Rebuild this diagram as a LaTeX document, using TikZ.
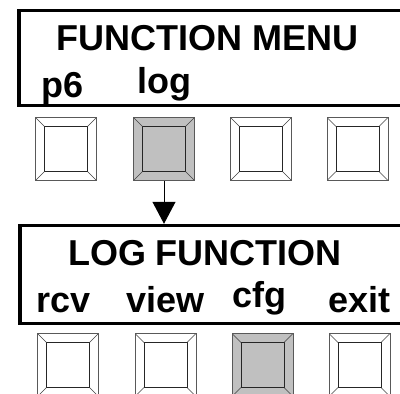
\documentclass[tikz,border=0pt]{standalone}
\usepackage{fontspec}
\setmainfont{Liberation Sans}
\usetikzlibrary{arrows.meta}
\definecolor{keygray}{HTML}{C0C0C0}
\tikzset{
  screen/.style={draw, line width=3.4pt, rectangle, inner sep=0pt},
  lbl/.style={anchor=base, inner sep=0pt, font=\fontsize{36}{40}\selectfont\bfseries},
  keybtn/.style={draw=black!65, line width=1pt, rectangle, inner sep=0pt,
    minimum width=61pt, minimum height=63pt,
    path picture={
      \draw[black!85, line width=0.9pt]
        ([shift={(9pt,9pt)}]path picture bounding box.south west)
        rectangle ([shift={(-9pt,-9pt)}]path picture bounding box.north east);
      \draw[black!75, line width=0.7pt]
        (path picture bounding box.south west) -- ([shift={(9pt,9pt)}]path picture bounding box.south west)
        (path picture bounding box.north west) -- ([shift={(9pt,-9pt)}]path picture bounding box.north west)
        (path picture bounding box.north east) -- ([shift={(-9pt,-9pt)}]path picture bounding box.north east)
        (path picture bounding box.south east) -- ([shift={(-9pt,9pt)}]path picture bounding box.south east);
    }},
  pressed/.style={keybtn, fill=keygray}
}
\begin{document}
\begin{tikzpicture}[x=1pt, y=-1pt]
  \useasboundingbox (0,0) rectangle (400,394);
  \clip (0,0) rectangle (400,394);
  % first screen
  \node[screen, minimum width=386pt, minimum height=95pt] (menu) at (212,58) {};
  \node[lbl] (title) at (207.5,50) {FUNCTION MENU};
  \node[lbl] (p6) at (63,97) {p6};
  \node[lbl] (log) at (164,93) {log};
  \node[keybtn] (k1) at (66,149) {};
  \node[pressed] (k2) at (164,149) {};
  \node[keybtn] (k3) at (261,149) {};
  \node[keybtn] (k4) at (357.5,149) {};
  % second screen
  \node[screen, minimum width=385pt, minimum height=98pt] (logmenu) at (212.5,274.5) {};
  \node[lbl] (logtitle) at (205,265) {LOG FUNCTION};
  \node[lbl] (rcv) at (64,312) {rcv};
  \node[lbl] (view) at (165.5,312) {view};
  \node[lbl] (cfg) at (259.5,307) {cfg};
  \node[lbl] (exit) at (359.5,312) {exit};
  \node[keybtn] (m1) at (68,365) {};
  \node[keybtn] (m2) at (165.5,365) {};
  \node[pressed] (m3) at (262.5,365) {};
  \node[keybtn] (m4) at (359.5,365) {};
  % pressed key leads to the next screen
  \draw[line width=1pt, -{Triangle[width=23pt,length=22pt]}] (k2.south) -- (k2.south |- logmenu.north);
\end{tikzpicture}
\end{document}
